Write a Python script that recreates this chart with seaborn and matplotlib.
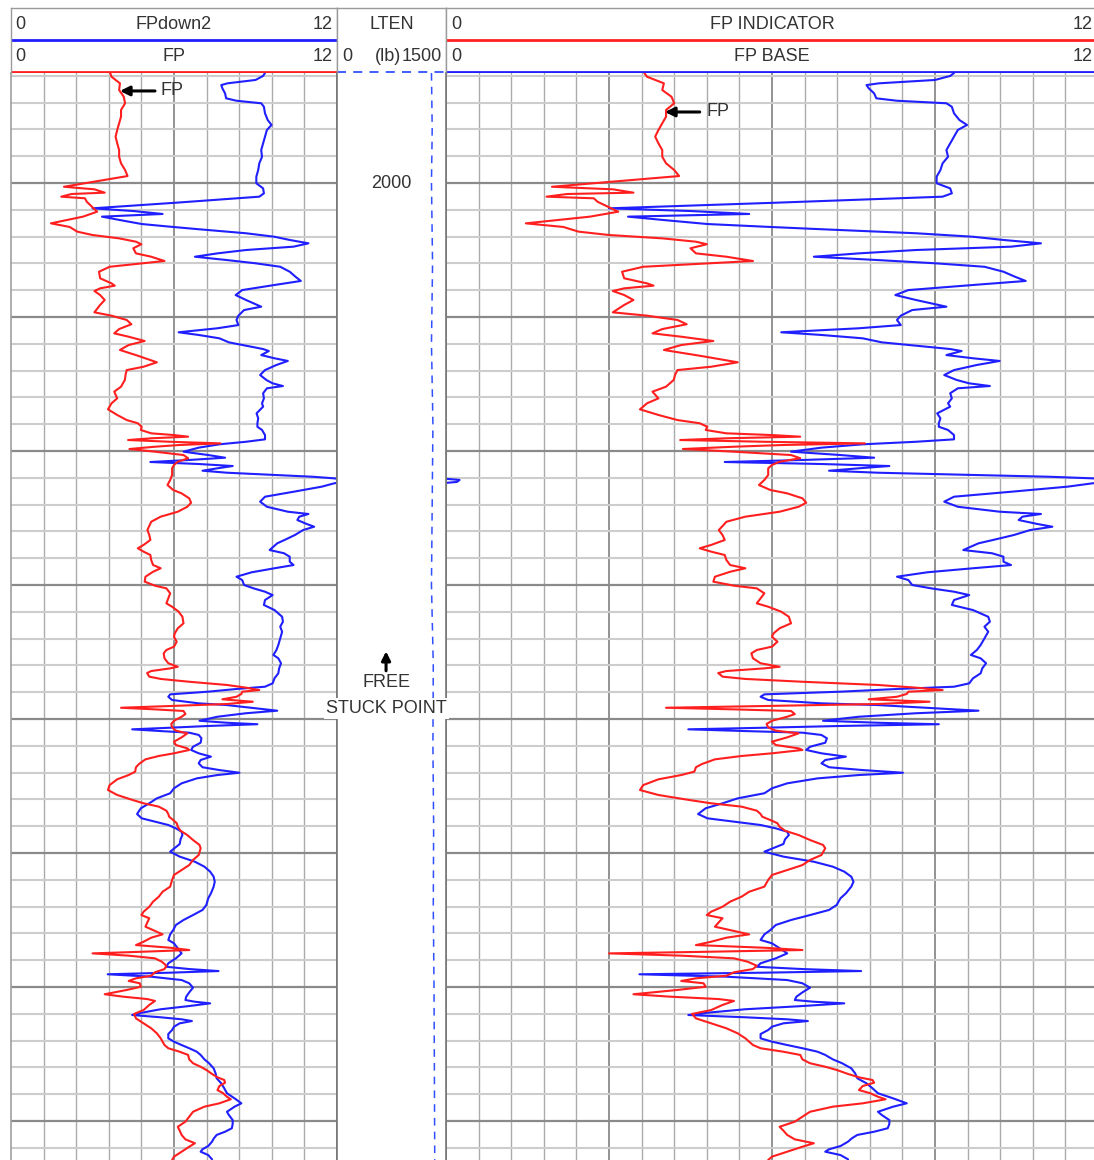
import numpy as np
import matplotlib
matplotlib.use('Agg')
import matplotlib.pyplot as plt
import seaborn as sns

sns.set_theme(style='white')
plt.rcParams['font.family'] = ['Liberation Sans', 'DejaVu Sans']

# red curve: FP (left track) / FP INDICATOR (right track)
fp_depth = [1991.79, 1992.07, 1992.56, 1993.06, 1993.56, 1994.05, 1994.55, 1995.05, 1995.54, 1996.04,
            1996.54, 1997.04, 1997.54, 1998.04, 1998.53, 1999.03, 1999.48, 2000.28, 2000.47, 2000.72,
            2000.82, 2001.02, 2001.14, 2001.40, 2001.81, 2002.14, 2002.51, 2003.01, 2003.28, 2003.63,
            2003.88, 2004.13, 2004.38, 2004.57, 2004.87, 2005.25, 2005.50, 2005.82, 2006.07, 2006.25,
            2006.62, 2007.11, 2007.49, 2007.66, 2007.86, 2008.06, 2008.36, 2008.73, 2009.10, 2009.65,
            2009.90, 2010.22, 2010.54, 2010.90, 2011.22, 2011.47, 2011.79, 2012.09, 2012.46, 2012.89,
            2013.38, 2013.71, 2013.96, 2014.28, 2014.70, 2015.20, 2015.57, 2016.07, 2016.44, 2016.89,
            2017.31, 2017.69, 2017.93, 2018.19, 2018.43, 2018.68, 2018.81, 2018.93, 2019.05, 2019.18,
            2019.31, 2019.43, 2019.55, 2019.68, 2019.85, 2020.05, 2020.30, 2020.54, 2020.80, 2021.04,
            2021.29, 2021.79, 2022.16, 2022.54, 2022.91, 2023.16, 2023.53, 2023.86, 2024.16, 2024.53,
            2024.90, 2025.28, 2025.60, 2025.90, 2026.27, 2026.64, 2027.01, 2027.26, 2027.51, 2027.76,
            2028.13, 2028.51, 2028.75, 2029.01, 2029.38, 2029.75, 2030.05, 2030.25, 2030.62, 2030.99,
            2031.37, 2031.62, 2031.99, 2032.37, 2032.86, 2033.23, 2033.60, 2033.86, 2034.23, 2034.60,
            2034.85, 2035.10, 2035.47, 2035.84, 2036.10, 2036.22, 2036.42, 2036.57, 2036.84, 2037.01,
            2037.22, 2037.46, 2037.66, 2037.84, 2037.96, 2038.13, 2038.34, 2038.53, 2038.71, 2038.88,
            2039.03, 2039.16, 2039.28, 2039.40, 2039.63, 2039.83, 2040.13, 2040.37, 2040.62, 2040.87,
            2041.07, 2041.37, 2041.69, 2041.94, 2042.19, 2042.31, 2042.56, 2042.76, 2043.01, 2043.36,
            2043.60, 2043.93, 2044.18, 2044.50, 2044.93, 2045.30, 2045.67, 2046.04, 2046.29, 2046.54,
            2046.84, 2047.09, 2047.29, 2047.59, 2047.78, 2048.04, 2048.34, 2048.66, 2049.03, 2049.40,
            2049.65, 2050.15, 2050.52, 2050.90, 2051.27, 2051.64, 2052.01, 2052.51, 2052.89, 2053.26,
            2053.63, 2054.01, 2054.38, 2054.63, 2054.87, 2055.17, 2055.50, 2055.82, 2056.07, 2056.32,
            2056.62, 2056.87, 2057.07, 2057.24, 2057.37, 2057.49, 2057.66, 2057.86, 2058.11, 2058.41,
            2058.66, 2058.90, 2059.16, 2059.35, 2059.55, 2059.72, 2059.98, 2060.22, 2060.54, 2060.72,
            2060.90, 2061.04, 2061.34, 2061.72, 2062.01, 2062.34, 2062.71, 2063.08, 2063.46, 2063.83,
            2064.33, 2064.57, 2064.83, 2065.07, 2065.40, 2065.69, 2065.95, 2066.19, 2066.49, 2066.74,
            2066.94, 2067.14, 2067.39, 2067.69, 2067.93, 2068.19, 2068.38, 2068.68, 2068.93, 2069.31,
            2069.68, 2070.05, 2070.43, 2070.72, 2071.04, 2071.37, 2071.66, 2071.92, 2072.29, 2072.66,
            2072.91]
fp_value = [3.65, 3.70, 4.01, 3.98, 4.15, 4.20, 4.05, 4.05, 3.98, 3.91,
            3.85, 3.91, 3.98, 3.98, 4.05, 4.20, 4.29, 1.95, 3.07, 3.45,
            2.23, 1.85, 2.72, 2.79, 3.00, 3.17, 2.65, 1.47, 2.16, 2.44,
            3.00, 3.98, 4.60, 4.80, 4.50, 4.60, 5.16, 5.65, 4.47, 3.63,
            3.24, 3.28, 3.70, 3.82, 3.28, 3.07, 3.28, 3.45, 3.28, 3.07,
            3.70, 4.26, 4.43, 3.98, 3.80, 4.33, 4.92, 4.33, 4.01, 4.67,
            5.37, 4.88, 4.26, 4.22, 4.19, 4.05, 3.80, 3.91, 3.70, 3.57,
            3.91, 4.26, 4.67, 4.81, 4.78, 5.16, 6.00, 6.52, 5.16, 4.31,
            5.86, 7.71, 6.21, 5.30, 4.36, 5.30, 6.35, 6.52, 6.14, 6.00,
            5.93, 5.93, 5.86, 5.76, 5.97, 6.28, 6.56, 6.63, 6.49, 6.14,
            5.51, 5.16, 5.09, 5.02, 5.09, 5.13, 4.88, 4.67, 4.88, 5.13,
            5.16, 5.23, 5.51, 5.23, 4.95, 4.92, 5.30, 5.72, 5.86, 5.79,
            5.72, 5.93, 6.17, 6.31, 6.35, 6.14, 6.03, 6.00, 6.10, 6.00,
            5.72, 5.62, 5.65, 5.79, 6.14, 5.86, 5.16, 5.01, 5.09, 5.51,
            6.56, 7.95, 8.65, 9.14, 8.51, 8.48, 8.30, 7.78, 8.90, 7.95,
            5.86, 4.05, 5.30, 6.35, 6.42, 6.28, 6.00, 5.90, 5.93, 6.07,
            6.49, 6.28, 6.00, 6.07, 6.49, 6.56, 6.00, 5.44, 4.95, 4.71,
            4.60, 4.57, 4.33, 3.91, 3.63, 3.57, 3.91, 4.47, 4.88, 5.44,
            5.72, 5.79, 5.82, 6.00, 6.10, 6.14, 6.24, 6.49, 6.70, 6.94,
            6.98, 6.91, 6.70, 6.56, 6.28, 6.00, 5.93, 5.86, 5.58, 5.44,
            5.23, 5.09, 4.88, 4.80, 5.09, 5.02, 4.95, 5.30, 5.58, 5.16,
            4.88, 4.60, 5.86, 6.56, 4.81, 3.00, 4.33, 5.30, 5.55, 5.72,
            5.65, 5.30, 5.16, 4.60, 4.33, 4.74, 4.78, 4.26, 3.45, 4.12,
            5.02, 5.30, 5.09, 4.88, 4.53, 4.60, 4.88, 5.16, 5.37, 5.51,
            5.65, 5.79, 6.21, 6.52, 6.56, 6.70, 6.98, 7.19, 7.40, 7.60,
            7.85, 7.88, 7.67, 7.60, 7.81, 7.95, 8.09, 7.67, 7.12, 6.70,
            6.56, 6.42, 6.14, 6.21, 6.28, 6.42, 6.77, 6.56, 6.28, 6.00,
            5.93]

# blue curve: FPdown2 (left track) / FP BASE (right track)
base_depth = [1991.79, 1992.01, 1992.31, 1992.56, 1992.69, 1992.93, 1993.31, 1993.68, 1993.86, 1994.05,
              1994.31, 1994.80, 1995.30, 1995.67, 1996.04, 1996.54, 1997.04, 1997.54, 1998.04, 1998.53,
              1999.03, 1999.53, 2000.02, 2000.40, 2000.77, 2001.02, 2001.47, 2001.89, 2002.09, 2002.31,
              2002.51, 2002.76, 2003.06, 2003.26, 2003.43, 2003.75, 2004.01, 2004.25, 2004.50, 2004.75,
              2005.00, 2005.25, 2005.50, 2005.75, 2005.99, 2006.25, 2006.62, 2006.99, 2007.31, 2007.61,
              2007.99, 2008.36, 2008.73, 2009.23, 2009.48, 2009.90, 2010.22, 2010.60, 2010.84, 2011.14,
              2011.34, 2011.59, 2011.89, 2012.14, 2012.39, 2012.54, 2012.84, 2013.08, 2013.28, 2013.58,
              2013.96, 2014.33, 2014.70, 2014.95, 2015.15, 2015.32, 2015.69, 2016.07, 2016.44, 2016.69,
              2017.19, 2017.56, 2017.93, 2018.19, 2018.43, 2018.81, 2019.13, 2019.31, 2019.50, 2019.75,
              2020.05, 2020.30, 2020.50, 2020.67, 2020.82, 2020.97, 2021.12, 2021.29, 2021.47, 2021.62,
              2021.79, 2021.92, 2022.04, 2022.16, 2022.31, 2022.41, 2022.66, 2023.04, 2023.41, 2023.78,
              2024.16, 2024.53, 2024.70, 2024.90, 2025.15, 2025.45, 2025.65, 2025.90, 2026.27, 2026.59,
              2026.89, 2027.39, 2027.63, 2027.89, 2028.26, 2028.51, 2028.75, 2029.05, 2029.38, 2029.63,
              2030.00, 2030.25, 2030.50, 2030.75, 2031.12, 2031.49, 2031.87, 2032.37, 2032.74, 2033.11,
              2033.49, 2033.98, 2034.48, 2034.85, 2035.22, 2035.47, 2035.84, 2036.22, 2036.59, 2036.96,
              2037.34, 2037.59, 2037.76, 2037.96, 2038.16, 2038.34, 2038.58, 2038.83, 2038.96, 2039.20,
              2039.38, 2039.57, 2039.83, 2040.13, 2040.28, 2040.39, 2040.52, 2040.65, 2040.77, 2040.90,
              2041.02, 2041.19, 2041.44, 2041.77, 2042.07, 2042.31, 2042.56, 2042.81, 2043.06, 2043.31,
              2043.60, 2043.81, 2044.01, 2044.18, 2044.43, 2044.80, 2045.17, 2045.54, 2045.92, 2046.29,
              2046.66, 2047.09, 2047.41, 2047.66, 2047.91, 2048.16, 2048.41, 2048.66, 2048.98, 2049.33,
              2049.90, 2050.27, 2050.65, 2051.02, 2051.39, 2051.77, 2052.14, 2052.51, 2053.01, 2053.38,
              2053.88, 2054.25, 2054.63, 2055.00, 2055.37, 2055.75, 2056.07, 2056.49, 2056.74, 2057.11,
              2057.49, 2057.86, 2058.23, 2058.49, 2058.66, 2058.81, 2058.93, 2059.05, 2059.23, 2059.48,
              2059.72, 2060.05, 2060.40, 2060.72, 2060.97, 2061.10, 2061.22, 2061.42, 2061.66, 2061.92,
              2062.09, 2062.26, 2062.41, 2062.54, 2062.71, 2062.96, 2063.21, 2063.51, 2063.83, 2064.08,
              2064.33, 2064.57, 2064.83, 2065.07, 2065.40, 2065.69, 2066.07, 2066.44, 2066.81, 2067.19,
              2067.56, 2067.93, 2068.31, 2068.68, 2068.93, 2069.31, 2069.55, 2069.93, 2070.22, 2070.54,
              2070.80, 2071.04, 2071.29, 2071.54, 2071.87, 2072.11, 2072.29, 2072.54, 2072.86]
base_value = [9.35, 9.28, 9.00, 7.97, 7.74, 7.78, 7.88, 7.92, 8.30, 9.21,
              9.31, 9.35, 9.45, 9.59, 9.42, 9.35, 9.28, 9.21, 9.24, 9.14,
              9.10, 9.03, 9.03, 9.28, 9.31, 9.14, 6.07, 3.00, 4.50, 5.58,
              3.35, 4.00, 4.81, 5.86, 6.80, 8.65, 9.70, 10.26, 10.95, 10.40,
              8.65, 7.60, 6.77, 7.95, 9.00, 9.91, 10.26, 10.47, 10.67, 9.70,
              8.51, 8.27, 8.65, 9.21, 8.58, 8.37, 8.30, 8.37, 7.60, 6.17,
              6.91, 7.67, 8.02, 8.65, 9.28, 9.49, 9.21, 9.70, 10.19, 9.77,
              9.35, 9.17, 9.40, 9.63, 10.01, 9.42, 9.28, 9.31, 9.24, 9.28,
              9.04, 9.10, 9.07, 9.07, 9.24, 9.35, 9.35, 8.65, 7.67, 6.91,
              6.35, 7.26, 7.88, 6.56, 5.13, 6.91, 8.16, 7.60, 7.05, 7.95,
              9.70, 11.10, 11.90, 12.25, 12.20, 11.90, 11.44, 10.40, 9.35, 9.17,
              9.42, 10.19, 10.95, 10.61, 10.54, 10.89, 11.16, 10.75, 10.45, 10.12,
              9.80, 9.52, 10.05, 10.26, 10.26, 10.40, 9.70, 8.86, 8.30, 8.51,
              8.58, 8.93, 9.35, 9.63, 9.35, 9.31, 9.70, 9.98, 10.01, 9.91,
              9.98, 9.91, 9.84, 9.77, 9.66, 9.84, 9.94, 9.87, 9.84, 9.70,
              9.63, 9.35, 8.30, 7.26, 5.86, 5.79, 5.93, 6.91, 7.95, 9.00,
              9.80, 8.65, 7.60, 6.94, 7.95, 9.07, 7.26, 5.86, 4.46, 5.51,
              6.56, 6.91, 7.01, 6.98, 6.70, 6.63, 6.91, 7.36, 6.98, 6.91,
              7.05, 7.67, 8.41, 7.60, 6.84, 6.28, 6.00, 5.86, 5.37, 5.09,
              4.78, 4.64, 4.81, 5.30, 5.79, 6.07, 6.28, 6.31, 6.24, 6.21,
              5.86, 6.21, 6.77, 7.12, 7.33, 7.46, 7.50, 7.46, 7.36, 7.26,
              7.19, 7.05, 6.70, 6.35, 6.07, 5.97, 5.86, 5.79, 6.00, 6.14,
              6.28, 6.07, 5.79, 5.72, 6.56, 7.64, 5.86, 3.56, 5.16, 6.28,
              6.56, 6.70, 6.56, 6.45, 6.42, 6.77, 7.33, 6.56, 5.51, 4.81,
              4.46, 5.51, 6.28, 6.66, 6.21, 6.00, 5.93, 5.79, 5.79, 6.00,
              6.28, 6.56, 6.84, 6.98, 7.12, 7.29, 7.46, 7.53, 7.57, 7.74,
              7.85, 7.95, 8.23, 8.48, 8.23, 7.95, 8.02, 8.16, 8.16, 8.13,
              7.88, 7.57, 7.47, 7.40, 7.26, 7.05, 6.98, 7.26, 7.40]

# line tension, middle track (lb)
lten_depth = [1991.79, 1996, 2000, 2006, 2012, 2018, 2024, 2030, 2036, 2042, 2048, 2054, 2060, 2066, 2072.91]
lten_value = [1300, 1310, 1300, 1315, 1300, 1320, 1310, 1300, 1325, 1320, 1330, 1325, 1335, 1340, 1345]

top_depth, bottom_depth = 1991.79, 2072.91
RED = '#ff1f1f'
BLUE = '#1f1fff'
TXT = '#333333'

W, H = 1094, 1160
fig = plt.figure(figsize=(W / 100, H / 100), dpi=100)
data_top, head_top = 73, 8


def track_axes(x0, x1):
    return fig.add_axes([x0 / W, 0, (x1 - x0) / W, 1 - data_top / H])


def head_axes(x0, x1):
    hx = fig.add_axes([x0 / W, 1 - data_top / H, (x1 - x0) / W, (data_top - head_top) / H])
    hx.set_xlim(0, 1)
    hx.set_ylim(0, 1)
    hx.set_xticks([])
    hx.set_yticks([])
    for s in hx.spines.values():
        s.set_color('#9a9a9a')
        s.set_linewidth(1)
    hx.spines['bottom'].set_visible(False)
    return hx


def grid_track(ax, n_div):
    ax.set_xlim(0, 12)
    ax.set_ylim(bottom_depth, top_depth)
    for i in range(1, n_div):
        major = i % 5 == 0
        ax.axvline(12 * i / n_div, color='#8a8a8a' if major else '#ababab',
                   lw=1.3 if major else 1.0, zorder=0)
    for d in range(1992, 2073, 2):
        major = d % 10 == 0
        ax.axhline(d, color='#8a8a8a' if major else '#cdcdcd',
                   lw=1.6 if major else 1.5, zorder=0)
    ax.set_xticks([])
    ax.set_yticks([])
    for s in ['top', 'bottom']:
        ax.spines[s].set_visible(False)
    for s in ['left', 'right']:
        ax.spines[s].set_color('#777777')
        ax.spines[s].set_linewidth(1.2)


def curve(ax, values, depths, color):
    sns.lineplot(x=values, y=depths, ax=ax, orient='y', sort=False,
                 estimator=None, color=color, linewidth=1.5)
    ax.set(xlabel='', ylabel='')


# left track
ax_l = track_axes(11, 337)
grid_track(ax_l, 10)
ax_l.spines['left'].set_color('#a0a0a0')
curve(ax_l, base_value, base_depth, BLUE)
curve(ax_l, fp_value, fp_depth, RED)
ax_l.annotate('', xy=(4.01, 1993.13), xytext=(5.3, 1993.13),
              arrowprops=dict(arrowstyle='-|>', color='black', lw=2.2,
                              mutation_scale=14, shrinkA=0, shrinkB=0))
ax_l.text(5.5, 1993.13, 'FP', fontsize=13, color=TXT, va='center', ha='left')

# right track
ax_r = track_axes(446, 1098)
grid_track(ax_r, 20)
curve(ax_r, base_value, base_depth, BLUE)
wrapped = [v - 12 if v >= 11.9 else np.nan for v in base_value]
ax_r.plot(wrapped, base_depth, color=BLUE, lw=1.5)
curve(ax_r, fp_value, fp_depth, RED)
ax_r.annotate('', xy=(4.03, 1994.70), xytext=(4.67, 1994.70),
              arrowprops=dict(arrowstyle='-|>', color='black', lw=2.2,
                              mutation_scale=14, shrinkA=0, shrinkB=0))
ax_r.text(4.8, 1994.70, 'FP', fontsize=13, color=TXT, va='center', ha='left')

# middle depth track
ax_m = track_axes(337, 446)
ax_m.set_zorder(5)
ax_m.set_xlim(0, 1500)
ax_m.set_ylim(bottom_depth, top_depth)
ax_m.set_xticks([])
ax_m.set_yticks([])
for s in ['top', 'bottom']:
    ax_m.spines[s].set_visible(False)
for s in ['left', 'right']:
    ax_m.spines[s].set_color('#777777')
    ax_m.spines[s].set_linewidth(1.2)
sns.lineplot(x=lten_value, y=lten_depth, ax=ax_m, orient='y', sort=False,
             estimator=None, color='#3050ff', linewidth=1.1)
ax_m.lines[-1].set_dashes((5, 4))
ax_m.set(xlabel='', ylabel='')
ym = ax_m.get_yaxis_transform()
ax_m.text(0.5, 2000, '2000', transform=ym, fontsize=13, color=TXT, ha='center', va='center')
ax_m.annotate('', xy=(0.45, 2034.95), xytext=(0.45, 2036.4),
              xycoords=ym, textcoords=ym,
              arrowprops=dict(arrowstyle='-|>', color='black', lw=2.2,
                              mutation_scale=13, shrinkA=0, shrinkB=0))
ax_m.text(0.45, 2037.3, 'FREE', transform=ym, fontsize=13, color=TXT,
          ha='center', va='center')
ax_m.text(0.45, 2039.2, 'STUCK POINT', transform=ym, fontsize=13, color=TXT,
          ha='center', va='center', clip_on=False, zorder=10,
          bbox=dict(facecolor='white', edgecolor='none', pad=1.5))

# headers
r1, r2 = 0.74, 0.25
l1, l2 = (73 - 40) / 65, (73 - 72) / 65

hl = head_axes(11, 337)
hl.text(0.012, r1, '0', fontsize=13, color=TXT, va='center', ha='left')
hl.text(0.5, r1, 'FPdown2', fontsize=13, color=TXT, va='center', ha='center')
hl.text(0.988, r1, '12', fontsize=13, color=TXT, va='center', ha='right')
hl.axhline(l1, color=BLUE, lw=2)
hl.text(0.012, r2, '0', fontsize=13, color=TXT, va='center', ha='left')
hl.text(0.5, r2, 'FP', fontsize=13, color=TXT, va='center', ha='center')
hl.text(0.988, r2, '12', fontsize=13, color=TXT, va='center', ha='right')
hl.axhline(l2, color=RED, lw=2)

hm = head_axes(337, 446)
hm.text(0.5, r1, 'LTEN', fontsize=13, color=TXT, va='center', ha='center')
hm.text(0.046, r2, '0', fontsize=13, color=TXT, va='center', ha='left')
hm.text(0.585, r2, '(lb)', fontsize=13, color=TXT, va='center', ha='right')
hm.text(0.96, r2, '1500', fontsize=13, color=TXT, va='center', ha='right')
hm.axhline(l2, color='#3050ff', lw=1.3, ls=(0, (5, 4)))

hr = head_axes(446, 1098)
hr.text(0.008, r1, '0', fontsize=13, color=TXT, va='center', ha='left')
hr.text(0.5, r1, 'FP INDICATOR', fontsize=13, color=TXT, va='center', ha='center')
hr.text(0.992, r1, '12', fontsize=13, color=TXT, va='center', ha='right')
hr.axhline(l1, color=RED, lw=2)
hr.text(0.008, r2, '0', fontsize=13, color=TXT, va='center', ha='left')
hr.text(0.5, r2, 'FP BASE', fontsize=13, color=TXT, va='center', ha='center')
hr.text(0.992, r2, '12', fontsize=13, color=TXT, va='center', ha='right')
hr.axhline(l2, color=BLUE, lw=2)

fig.savefig('out.png', dpi=100)
